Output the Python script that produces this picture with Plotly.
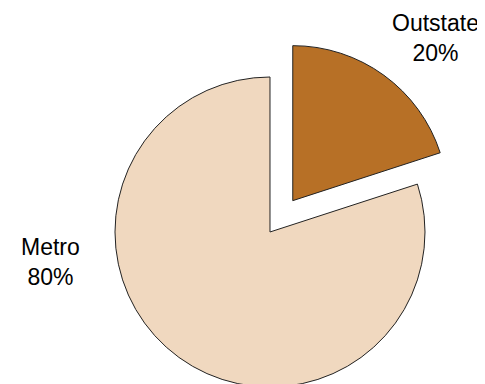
import plotly.graph_objects as go

labels = ["Outstate", "Metro"]
values = [20, 80]
colors = ["#B77026", "#F0D8BF"]
pulls = [0.25, 0]

W, H = 477, 420

total = sum(values)
fig = go.Figure(go.Pie(
    labels=labels,
    values=values,
    pull=pulls,
    sort=False,
    direction="clockwise",
    rotation=0,
    textinfo="none",
    marker=dict(colors=colors, line=dict(color="#222222", width=1)),
    domain=dict(x=[0.14308, 0.95545], y=[0.00536, 0.92798]),
    showlegend=False,
))

label_pos = {"Outstate": (0.8952, 0.9286), "Metro": (0.0901, 0.3952)}
for lab, val in zip(labels, values):
    x, y = label_pos[lab]
    fig.add_annotation(
        x=x, y=y, xref="paper", yref="paper",
        text=f"{lab}<br>{round(100 * val / total)}%",
        showarrow=False, xanchor="center", yanchor="middle",
        font=dict(family="Liberation Sans, Arial, sans-serif", size=23, color="#000000"),
    )

fig.update_layout(
    width=W, height=H,
    margin=dict(l=0, r=0, t=0, b=0),
    paper_bgcolor="white", plot_bgcolor="white",
)
fig.write_html("out.html")
